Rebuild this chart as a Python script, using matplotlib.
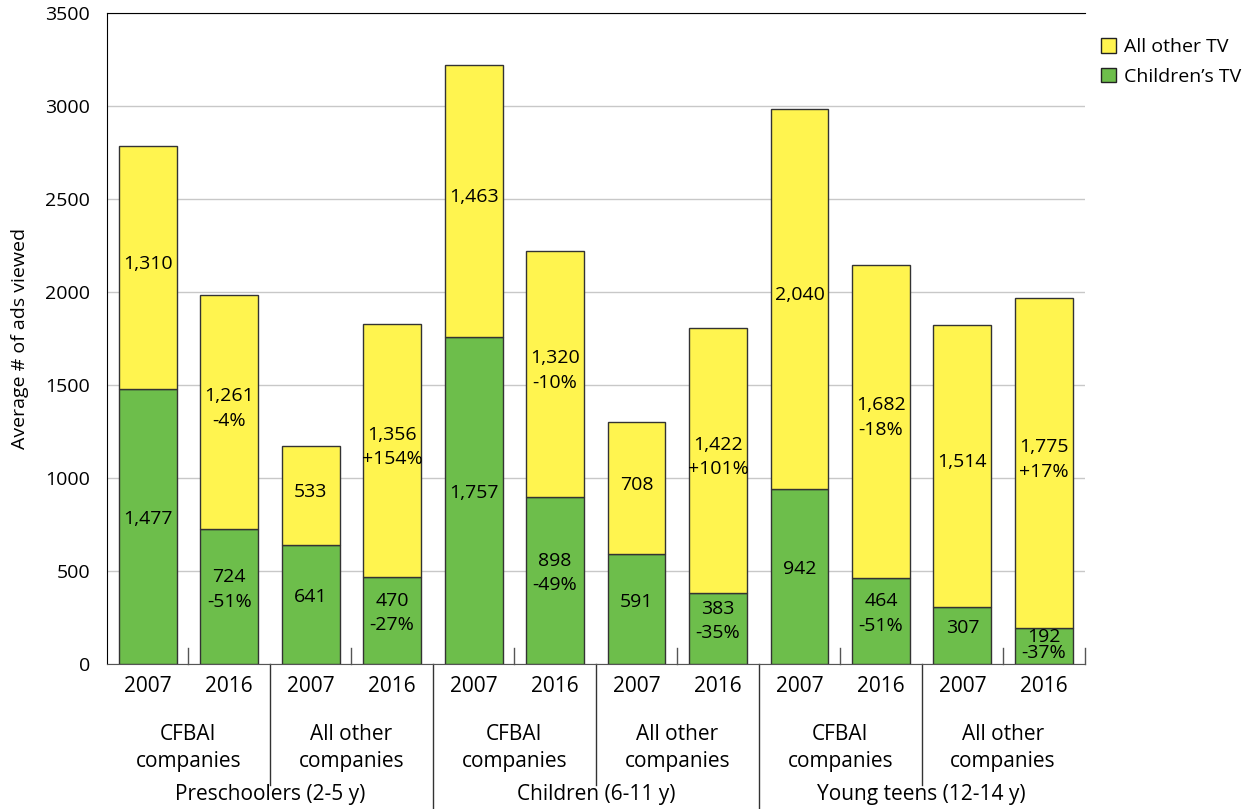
import numpy as np
import matplotlib.pyplot as plt
from matplotlib.transforms import blended_transform_factory
from matplotlib.patches import Patch

plt.rcParams['font.family'] = ['Open Sans', 'DejaVu Sans']
plt.rcParams['font.size'] = 14

# one bar per (age group, company type, year)
years = ['2007', '2016'] * 6
companies = ['CFBAI\ncompanies', 'All other\ncompanies'] * 3
age_groups = ['Preschoolers (2-5 y)', 'Children (6-11 y)', 'Young teens (12-14 y)']

childrens_tv = [1477, 724, 641, 470, 1757, 898, 591, 383, 942, 464, 307, 192]
other_tv = [1310, 1261, 533, 1356, 1463, 1320, 708, 1422, 2040, 1682, 1514, 1775]
childrens_chg = ['', '-51%', '', '-27%', '', '-49%', '', '-35%', '', '-51%', '', '-37%']
other_chg = ['', '-4%', '', '+154%', '', '-10%', '', '+101%', '', '-18%', '', '+17%']

green = '#6dbe4b'
yellow = '#fff44f'

fig = plt.figure(figsize=(12.51, 8.09), dpi=100)
ax = fig.add_axes([0.0855, 0.179, 0.7815, 0.805])

x = np.arange(len(years))
w = 0.71
b1 = ax.bar(x, childrens_tv, w, color=green, edgecolor='#333333', linewidth=1, zorder=3)
b2 = ax.bar(x, other_tv, w, bottom=childrens_tv, color=yellow, edgecolor='#333333',
            linewidth=1, zorder=3)

def lab(v, chg):
    s = f'{v:,}'
    return s + ('\n' + chg if chg else '')

for i in range(len(x)):
    g, o = childrens_tv[i], other_tv[i]
    if g < 250:
        ax.text(x[i], g / 2 + 5, lab(g, childrens_chg[i]), ha='center', va='center',
                linespacing=0.85, zorder=4)
    else:
        ax.text(x[i], g / 2 + 40, lab(g, childrens_chg[i]), ha='center', va='center',
                linespacing=1.45, zorder=4)
    ax.text(x[i], g + o / 2 + 20, lab(o, other_chg[i]), ha='center', va='center',
            linespacing=1.45, zorder=4)

ax.set_xlim(-0.5, 11.5)
ax.set_ylim(0, 3500)
ax.set_yticks(np.arange(0, 3501, 500))
ax.tick_params(axis='y', length=0, pad=12, labelsize=14)
ax.set_xticks([])
ax.yaxis.grid(True, color='#c8c8c8', linewidth=1, zorder=0)
ax.spines['right'].set_visible(False)
ax.spines['bottom'].set_color('#555555')
ax.set_ylabel('Average # of ads viewed', fontsize=14, labelpad=12)

tr = blended_transform_factory(ax.transData, ax.transAxes)

# year labels, company labels, age group labels
for i in x:
    ax.text(i, -0.034, years[i], transform=tr, ha='center', va='center', fontsize=15)
for k in range(6):
    ax.text(2 * k + 0.5, -0.129, companies[k], transform=tr, ha='center', va='center',
            fontsize=15, linespacing=1.35)
for k in range(3):
    ax.text(4 * k + 1.5, -0.2, age_groups[k], transform=tr, ha='center', va='center',
            fontsize=15)

# short ticks between years, separators between company types and age groups
for k in range(6):
    ax.plot([2 * k + 0.5] * 2, [0, 0.025], transform=tr, color='#555555', lw=1,
            clip_on=False, zorder=5)
ax.plot([11.5] * 2, [0, 0.025], transform=tr, color='#555555', lw=1, clip_on=False)
for k in range(3):
    ax.plot([4 * k + 1.5] * 2, [0, -0.185], transform=tr, color='#333333', lw=1,
            clip_on=False)
for k in (1, 2):
    ax.plot([4 * k - 0.5] * 2, [0, -0.23], transform=tr, color='#333333', lw=1,
            clip_on=False)

handles = [Patch(facecolor=yellow, edgecolor='#222222'),
           Patch(facecolor=green, edgecolor='#222222')]
fig.legend(handles, ['All other TV', 'Children\u2019s TV'], loc='upper left',
           bbox_to_anchor=(0.866, 0.975), frameon=False, fontsize=14,
           handlelength=0.8, handleheight=0.8, handletextpad=0.4, labelspacing=0.6)

fig.savefig('out.png', dpi=100)
